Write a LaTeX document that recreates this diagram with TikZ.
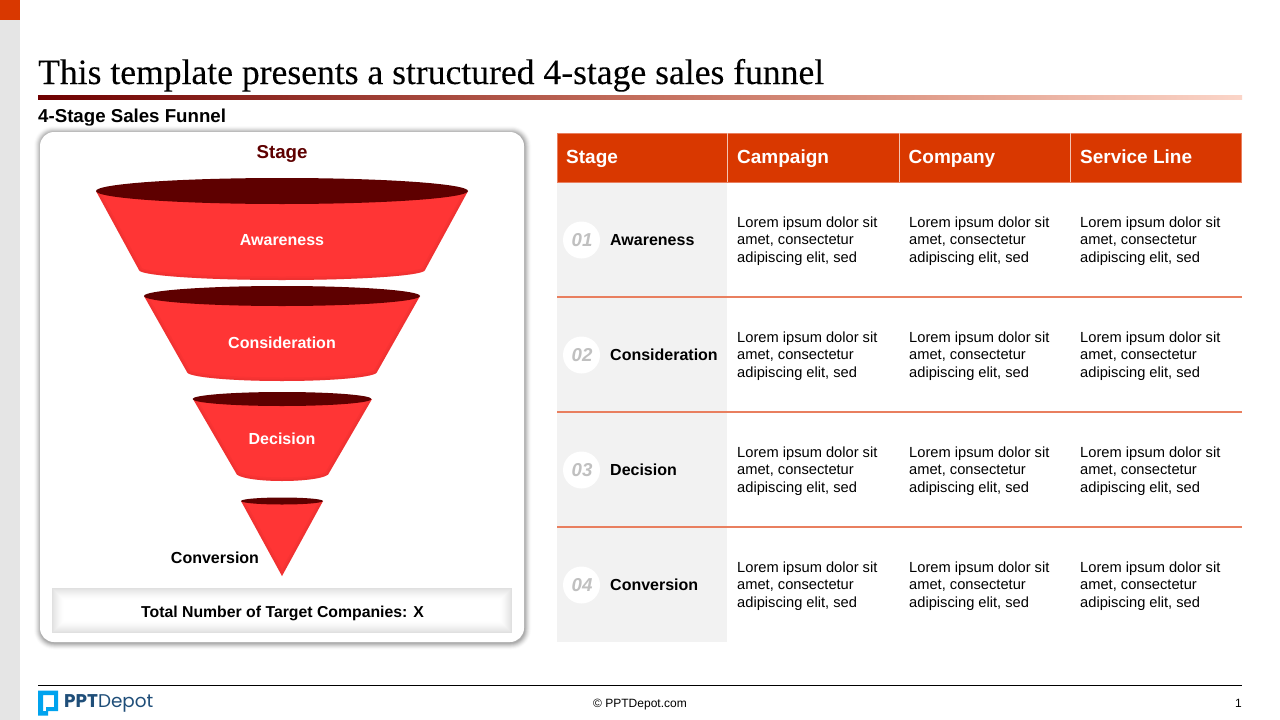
\documentclass[tikz,border=0pt]{standalone}
\usepackage{fontspec}
\setmainfont{Liberation Sans}
\newfontfamily\titlefont[FakeBold=0.12]{Liberation Serif}
\newfontfamily\logofont{Poppins}
\usetikzlibrary{calc}
\definecolor{hdr}{HTML}{D93800}
\definecolor{maroon}{HTML}{5E0000}
\definecolor{fred}{HTML}{FF3535}
\definecolor{fedge}{HTML}{B02020}
\definecolor{rowline}{HTML}{E97F5F}
\definecolor{stagecol}{HTML}{F2F2F2}
\definecolor{numgray}{HTML}{C0C0C0}
\definecolor{logoblue}{HTML}{00A3EE}
\definecolor{logonavy}{HTML}{1F4E79}
\definecolor{ruleA}{HTML}{6E0000}
\definecolor{ruleB}{HTML}{C26C5B}
\definecolor{ruleD}{HTML}{E19E8C}
\definecolor{ruleC}{HTML}{FBD5C8}
\pgfdeclarehorizontalshading{rulegrad}{100bp}{color(0bp)=(ruleA);color(25bp)=(ruleA);color(49.6bp)=(ruleB);color(62bp)=(ruleD);color(75bp)=(ruleC);color(100bp)=(ruleC)}
\tikzset{
  px/.style={x=1pt,y=-1pt},
  stagehead/.style={font=\bfseries\fontsize{19}{23}\selectfont,text=white,anchor=base west,inner sep=0pt},
  bodytext/.style={font=\fontsize{14.67}{17.6}\selectfont,text=black,anchor=west,align=left,inner sep=0pt},
  rowname/.style={font=\bfseries\fontsize{16}{19}\selectfont,text=black,anchor=base west,inner sep=0pt},
  numcircle/.style={circle,fill=white,minimum size=37pt,inner sep=0pt},
  numtext/.style={font=\bfseries\itshape\fontsize{18.67}{22}\selectfont,text=numgray,inner sep=0pt,anchor=base},
  funnellabel/.style={font=\bfseries\fontsize{16}{19}\selectfont,text=white,inner sep=0pt,anchor=base},
  rowrule/.style={draw=rowline,line width=1.2pt},
}
\newcommand{\lorem}{Lorem ipsum dolor sit\\amet, consectetur\\adipiscing elit, sed}
% xL xR ytop ry xl xr ybot sag
\newcommand{\funnelseg}[8]{%
  \def\bodypath{(#1,#3) -- (#5,#7) .. controls (#5,#7+0.55*#8) and ({282-(282-#5)*0.55},#7+#8) .. (282,#7+#8) .. controls ({282+(#6-282)*0.55},#7+#8) and (#6,#7+0.55*#8) .. (#6,#7) -- (#2,#3) -- cycle}%
  \begin{scope}
    \fill[fred] \bodypath;
    \clip \bodypath;
    \draw[fedge,opacity=0.08,line width=7pt] \bodypath;
    \draw[fedge,opacity=0.10,line width=3.5pt] \bodypath;
  \end{scope}
  \fill[maroon] (282,#3) ellipse [x radius={(#2-#1)/2},y radius=#4];
}
\begin{document}
\begin{tikzpicture}[px]
\useasboundingbox (0,0) rectangle (1280,720);
\fill[white] (0,0) rectangle (1280,720);
% side strip
\fill[black!10] (0,0) rectangle (20,720);
\fill[hdr] (0,0) rectangle (20,20);
% title
\node[anchor=base west,inner sep=0pt,font=\titlefont\fontsize{35.6}{40}\selectfont] (title) at (38,84) {This template presents a structured 4-stage sales funnel};
\shade[shading=rulegrad] (38,95.5) rectangle (1242,99);
\node[anchor=base west,inner sep=0pt,font=\bfseries\fontsize{18.67}{22}\selectfont] (subtitle) at (38,122) {4-Stage Sales Funnel};
% card with soft shadow
\foreach \s in {6.5,6,...,0}{
  \pgfmathsetmacro{\k}{32*(1-\s/6.5)^1.5}
  \fill[black!\k!white,rounded corners={14pt+\s*1pt}] (40-\s,132-\s) rectangle (525+\s,643.5+\s);
}
\fill[white,rounded corners=14pt] (40,132) rectangle (524,642);
\node[font=\bfseries\fontsize{18.67}{22}\selectfont,text=maroon,inner sep=0pt,anchor=base] (stagelabel) at (282,158.5) {Stage};
% funnel
\funnelseg{96}{468}{191}{13}{139}{425}{270}{10}
\funnelseg{144}{420}{296}{10}{187}{377}{372}{9}
\funnelseg{193}{372}{399}{7}{236}{329}{473}{8}
\begin{scope}
  \fill[fred] (241,501) -- (282,576) -- (323,501) -- cycle;
  \clip (241,501) -- (282,576) -- (323,501) -- cycle;
  \draw[fedge,opacity=0.08,line width=7pt] (241,501) -- (282,576) -- (323,501);
  \draw[fedge,opacity=0.10,line width=3.5pt] (241,501) -- (282,576) -- (323,501);
\end{scope}
\fill[maroon] (282,501) ellipse [x radius=41,y radius=3.5];
\node[funnellabel] (f1) at (282,245.5) {Awareness};
\node[funnellabel] (f2) at (282,348.5) {Consideration};
\node[funnellabel] (f3) at (282,444.5) {Decision};
\node[funnellabel,text=black] (f4) at (215,563.5) {Conversion};
% total box
\foreach \i in {0,...,12}{
  \pgfmathsetmacro{\g}{12*(1-\i/12)^1.5}
  \fill[black!\g!white] (52+\i,588+\i) rectangle (512-\i,633-\i);
}
\node[font=\bfseries\fontsize{15.8}{19}\selectfont,inner sep=0pt,anchor=base] (total) at (282.5,617) {Total Number of Target Companies: X};
% table
\fill[stagecol] (557,182) rectangle (727,642);
\fill[hdr,draw=rowline,line width=0.6pt] (557,133) rectangle (1241.7,182);
\draw[white!70!hdr,line width=1pt] (727.5,133) -- (727.5,182) (899,133) -- (899,182) (1070,133) -- (1070,182);
\node[stagehead] (h1) at (566,163.5) {Stage};
\node[stagehead] (h2) at (737,163.5) {Campaign};
\node[stagehead] (h3) at (908.5,163.5) {Company};
\node[stagehead] (h4) at (1080,163.5) {Service Line};
\foreach \y in {297,412,527}{ \draw[rowrule] (557,\y) -- (1242,\y); }
\foreach \n/\t/\y in {1/Awareness/240,2/Consideration/355,3/Decision/470,4/Conversion/585}{
  \node[numcircle] (c\n) at (581.5,\y) {};
  \node[numtext] (n\n) at (582,\y+6.5) {0\n};
  \node[rowname] (r\n) at (610,\y+5.5) {\t};
  \node[bodytext] (a\n) at (737,\y+1) {\lorem};
  \node[bodytext] (b\n) at (909,\y+1) {\lorem};
  \node[bodytext] (d\n) at (1080,\y+1) {\lorem};
}
% footer
\draw[black,line width=1pt] (38,685.5) -- (1242,685.5);
\node[font=\fontsize{12}{14}\selectfont,inner sep=0pt,anchor=base] (copy) at (640,707) {© PPTDepot.com};
\node[font=\fontsize{12}{14}\selectfont,inner sep=0pt,anchor=base east] (pageno) at (1242,707) {1};
% logo
\fill[logoblue,even odd rule] (38,690.5) -- (58,690.5) -- (58,711) -- (48,711) -- (48,715.5) -- (38,715.5) -- cycle (43,695) -- (54,695) -- (54,707) -- (46,707) -- (46,711) -- (43,711) -- cycle;
\node[anchor=base west,inner sep=0pt,font=\logofont\fontsize{18.4}{22}\selectfont,text=logonavy] (logo) at (64,707) {\textbf{PPT}Depot};
\end{tikzpicture}
\end{document}
